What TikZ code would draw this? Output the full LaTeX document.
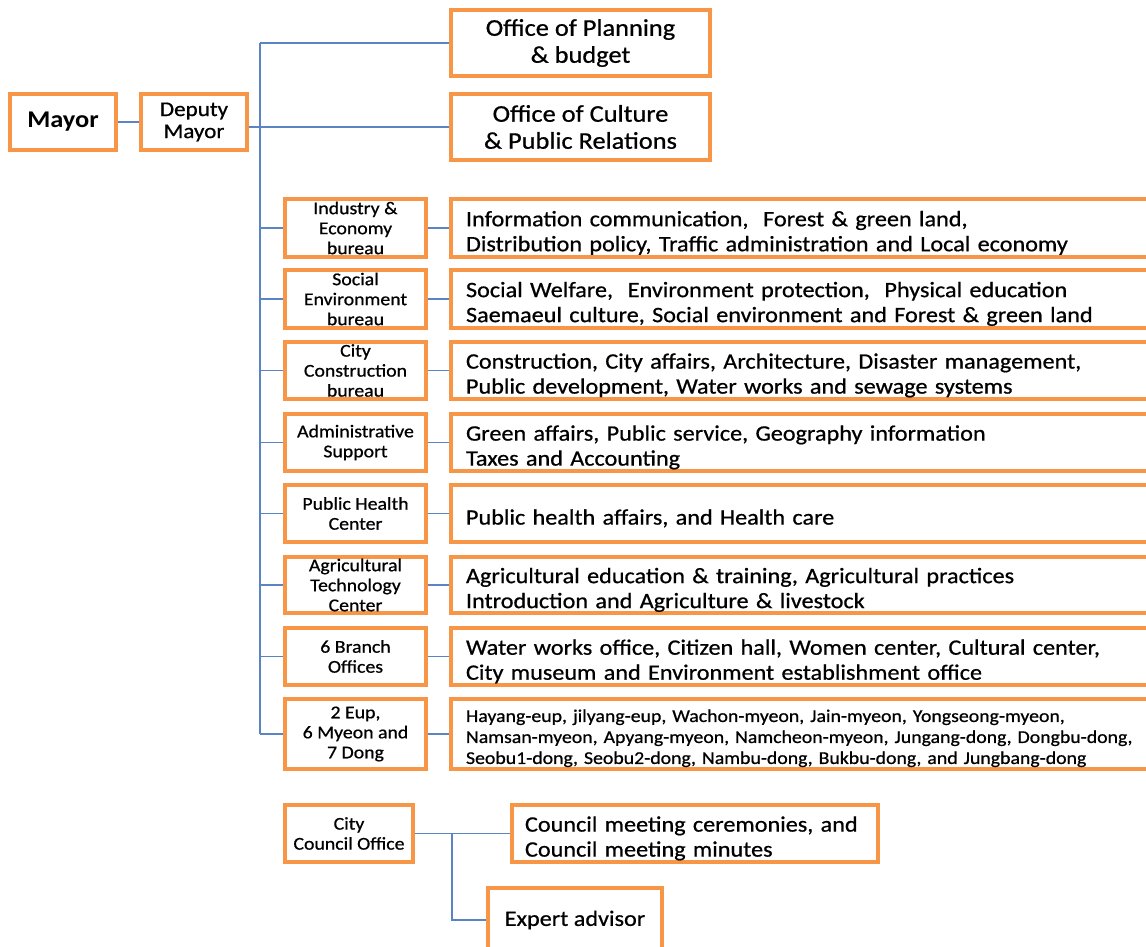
\documentclass[tikz,border=0pt]{standalone}
\usepackage{fontspec}
\setmainfont{Carlito}[FakeStretch=1.1,UprightFeatures={FakeBold=0.7}]
\definecolor{boxorange}{RGB}{247,150,70}
\definecolor{linkblue}{RGB}{90,132,195}

\begin{document}
\begin{tikzpicture}[x=1pt,y=-1pt,
    box/.style={draw=boxorange,line width=3.5pt,fill=white,inner sep=0pt,align=center},
    unit/.style={box,minimum width=141pt,minimum height=58pt,font=\fontsize{18}{20}\selectfont},
    duty/.style={box,align=left,inner xsep=15pt,text width=669pt,minimum height=58pt,font=\fontsize{22}{25}\selectfont,
        execute at begin node={\rule{0pt}{#1}}},
    duty/.default=25pt,
    link/.style={draw=linkblue,line width=1.3pt}]
    \useasboundingbox (0,0) rectangle (1146,947);

    % top of the chart
    \node[box,minimum width=106pt,minimum height=56pt,font=\bfseries\fontsize{24}{28}\selectfont] (mayor) at (63,122) {Mayor};
    \node[box,minimum width=106pt,minimum height=56pt,font=\fontsize{21}{22}\selectfont] (deputy) at (194,122) {Deputy\\Mayor};
    \node[box,minimum width=259pt,minimum height=66pt,font=\fontsize{24}{27}\selectfont] (plan) at (580.5,43) {Office of Planning\\\& budget};
    \node[box,minimum width=259pt,minimum height=66pt,font=\fontsize{24}{27}\selectfont] (culture) at (580.5,127) {Office of Culture\\\& Public Relations};

    % bureaus and their duties
    \node[unit] (ind) at (355.5,228) {Industry \&\\Economy\\bureau};
    \node[duty] (indD) at (800.5,228) {Information communication,\ \ Forest \& green land,\\Distribution policy, Traffic administration and Local economy};
    \node[unit] (soc) at (355.5,299) {Social\\Environment\\bureau};
    \node[duty] (socD) at (800.5,299) {Social Welfare,\ \ Environment protection,\ \ Physical education\\Saemaeul culture, Social environment and Forest \& green land};
    \node[unit,minimum height=57pt] (city) at (355.5,370.5) {City\\Construction\\bureau};
    \node[duty,minimum height=57pt] (cityD) at (800.5,370.5) {Construction, City affairs, Architecture, Disaster management,\\Public development, Water works and sewage systems};
    \node[unit,minimum height=57pt] (adm) at (355.5,442.5) {Administrative\\Support};
    \node[duty,minimum height=57pt] (admD) at (800.5,442.5) {Green affairs, Public service, Geography information\\Taxes and Accounting};
    \node[unit,minimum height=57pt] (health) at (355.5,513.5) {Public Health\\Center};
    \node[duty,minimum height=57pt] (healthD) at (800.5,513.5) {Public health affairs, and Health care};
    \node[unit,minimum height=56pt] (agri) at (355.5,585) {Agricultural\\Technology\\Center};
    \node[duty,minimum height=56pt] (agriD) at (800.5,585) {Agricultural education \& training, Agricultural practices\\Introduction and Agriculture \& livestock};
    \node[unit,minimum height=57pt] (branch) at (355.5,656.5) {6 Branch\\Offices};
    \node[duty,minimum height=57pt] (branchD) at (800.5,656.5) {Water works office, Citizen hall, Women center, Cultural center,\\City museum and Environment establishment office};
    \node[unit,minimum height=70pt] (eup) at (355.5,734) {2 Eup,\\6 Myeon and\\7 Dong};
    \node[duty=21pt,minimum height=70pt,font=\fontsize{18}{21}\selectfont] (eupD) at (800.5,734) {Hayang-eup, jilyang-eup, Wachon-myeon, Jain-myeon, Yongseong-myeon,\\Namsan-myeon, Apyang-myeon, Namcheon-myeon, Jungang-dong, Dongbu-dong,\\Seobu1-dong, Seobu2-dong, Nambu-dong, Bukbu-dong, and Jungbang-dong};

    % city council
    \node[unit,minimum width=128pt,minimum height=57pt] (council) at (349,833.5) {City\\Council Office};
    \node[duty,inner xsep=13pt,text width=340pt,minimum height=57pt] (meeting) at (695,833.5) {Council meeting ceremonies,\ and\\Council meeting minutes};
    \node[box,minimum width=174pt,minimum height=64pt,font=\fontsize{22}{25}\selectfont] (expert) at (575,920) {Expert advisor};

    % connectors
    \coordinate (spine) at (260,43);
    \draw[link] (mayor) -- (deputy);
    \draw[link] (spine) -- (plan.west);
    \draw[link] (spine) -- (spine |- eup.west);
    \draw[link] (culture.west -| deputy.east) -- (culture.west);
    \foreach \u in {ind,soc,city,adm,health,agri,branch,eup} {
        \draw[link] (spine |- \u.west) -- (\u.west);
        \draw[link] (\u.east) -- (\u D.west);
    }
    \coordinate (fork) at (452,833.5);
    \draw[link] (council.east) -- (meeting.west);
    \draw[link] (fork) |- (expert.west);
\end{tikzpicture}
\end{document}
